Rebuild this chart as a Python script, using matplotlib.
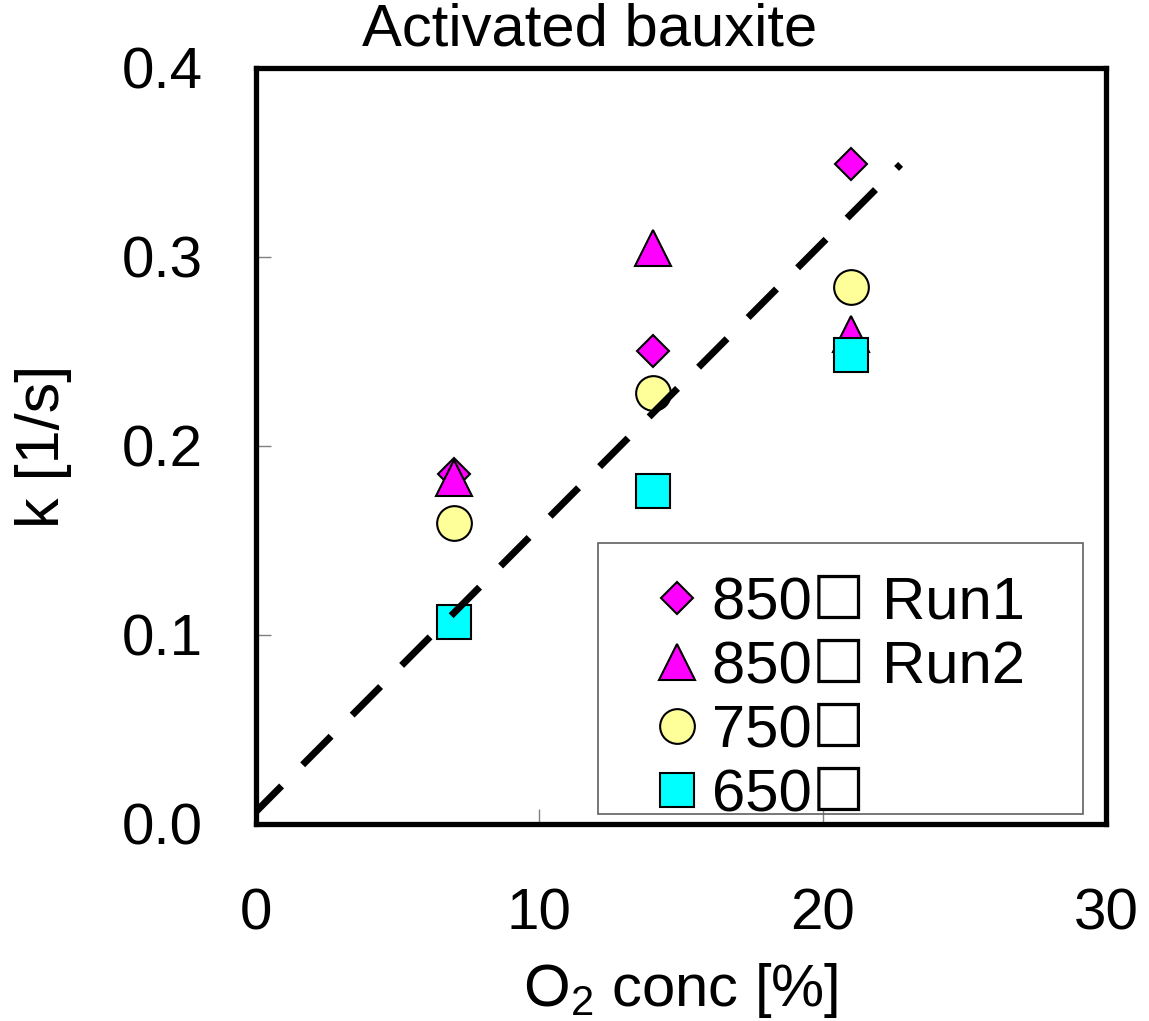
import matplotlib
matplotlib.use("Agg")
import matplotlib.pyplot as plt
from matplotlib.patches import Rectangle

plt.rcParams['font.family'] = ['Liberation Sans', 'Noto Sans CJK JP', 'DejaVu Sans']
plt.rcParams['mathtext.fontset'] = 'custom'
plt.rcParams['mathtext.rm'] = 'Liberation Sans'
plt.rcParams['mathtext.it'] = 'Liberation Sans'

# O2 concentration [%]
o2 = [7, 14, 21]

# rate constants k [1/s]
k_850_run1 = [0.185, 0.250, 0.349]
k_850_run2 = [0.183, 0.305, 0.259]
k_750 = [0.159, 0.228, 0.284]
k_650 = [0.107, 0.176, 0.248]

# dashed fit line end points
fit_x = [-0.1, 22.75]
fit_y = [0.005, 0.349]

labels = ["850\u2610 Run1", "850\u2610 Run2", "750\u2610", "650\u2610"]

fig = plt.figure(figsize=(11.49, 10.21), dpi=100)
ax = fig.add_axes([0.2228, 0.1930, 0.7398, 0.7404])

h1, = ax.plot(o2, k_850_run1, 'D', ms=16, mfc='#ff00ff', mec='black', mew=1.5, label=labels[0])
h2, = ax.plot(o2, k_850_run2, '^', ms=26, mfc='#ff00ff', mec='black', mew=1.5, label=labels[1])
h3, = ax.plot(o2, k_750, 'o', ms=25, mfc='#ffff99', mec='black', mew=1.5, label=labels[2])
h4, = ax.plot(o2, k_650, 's', ms=25, mfc='#00ffff', mec='black', mew=1.5, label=labels[3])

fit, = ax.plot(fit_x, fit_y, color='black', lw=5)
fit.set_dashes((5.8, 4.3))
fit.set_dash_capstyle('butt')

ax.set_xlim(0, 30)
ax.set_ylim(0, 0.4)
ax.set_xticks([0, 10, 20, 30])
ax.set_yticks([0.0, 0.1, 0.2, 0.3, 0.4])
ax.set_yticklabels(["0.0", "0.1", "0.2", "0.3", "0.4"])
ax.tick_params(direction='in', length=11, width=1, color='#808080',
               labelsize=42, pad=38)
ax.tick_params(axis='x', pad=46)

for sp in ax.spines.values():
    sp.set_linewidth(3.8)
    sp.set_color('black')

ax.set_xlabel("O$_2$ conc [%]", fontsize=43, labelpad=14)
ax.set_ylabel("k [1/s]", fontsize=44, labelpad=36)

fig.text(590 / 1149, 1 - 45 / 1021, "Activated bauxite", fontsize=43,
         ha='center', va='baseline')

# legend box drawn as its own frame, the entries overflow it at the bottom
ax.add_patch(Rectangle((0.402, 0.013), 0.571, 0.359, transform=ax.transAxes,
                       fill=False, edgecolor='#606060', lw=1.2, zorder=4))
ax.legend(handles=[h1, h2, h3, h4], loc='upper left',
          bbox_to_anchor=(0.402, 0.013, 0.571, 0.359), mode='expand',
          borderaxespad=0, fontsize=43, frameon=False,
          borderpad=0.55, handlelength=1.54, handletextpad=-0.17,
          labelspacing=0.15)

fig.savefig("out.png", dpi=100)
